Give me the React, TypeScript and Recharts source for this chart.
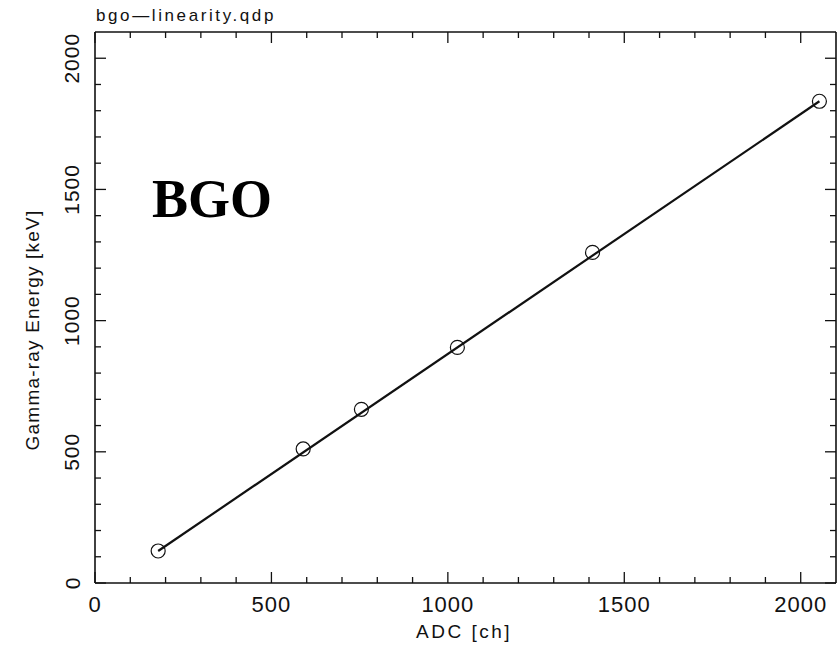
import React from "react";
import { ComposedChart, XAxis, YAxis, Scatter, Line } from "recharts";

// Measured calibration points (ADC channel vs gamma-ray energy)
const adcChannels = [179, 590, 755, 1027, 1410, 2053];
const gammaEnergies = [122, 511, 662, 898, 1260, 1836];

// Linear fit line endpoints
const fitAdc = [179, 2053];
const fitEnergy = [122, 1836];

// Tick values (every 100, labelled every 500)
const tickValues = [0, 100, 200, 300, 400, 500, 600, 700, 800, 900, 1000, 1100, 1200, 1300, 1400, 1500, 1600, 1700, 1800, 1900, 2000];
const labelledTicks = [0, 500, 1000, 1500, 2000];

const titleText = "bgo—linearity.qdp";
const xTitle = "ADC [ch]";
const yTitle = "Gamma-ray Energy [keV]";
const panelLabel = "BGO";

const points = adcChannels.map((a, i) => ({ x: a, y: gammaEnergies[i] }));
const fitData = fitAdc.map((a, i) => ({ x: a, y: fitEnergy[i] }));

const INK = "#111";
const FONT = "'Liberation Sans', Arial, sans-serif";
const MAJ = 11;
const MIN = 6;

const isMajor = (v: number) => labelledTicks.includes(v);

const BottomTick = (props: any) => {
  const { x, y, payload } = props;
  const major = isMajor(payload.value);
  return (
    <g>
      <line x1={x} x2={x} y1={y} y2={y - (major ? MAJ : MIN)} stroke={INK} strokeWidth={1.3} />
      {major && (
        <text x={x} y={y + 29} textAnchor="middle" fontFamily={FONT} fontSize={22} letterSpacing={1} fill={INK}>
          {payload.value}
        </text>
      )}
    </g>
  );
};

const TopTick = (props: any) => {
  const { x, y, payload } = props;
  const major = isMajor(payload.value);
  return <line x1={x} x2={x} y1={y} y2={y + (major ? MAJ : MIN)} stroke={INK} strokeWidth={1.3} />;
};

const LeftTick = (props: any) => {
  const { x, y, payload } = props;
  const major = isMajor(payload.value);
  return (
    <g>
      <line x1={x} x2={x + (major ? MAJ : MIN)} y1={y} y2={y} stroke={INK} strokeWidth={1.3} />
      {major && (
        <text
          x={x - 23}
          y={y}
          transform={`rotate(-90 ${x - 23} ${y})`}
          textAnchor="middle"
          dominantBaseline="central"
          fontFamily={FONT}
          fontSize={21}
          letterSpacing={1}
          fill={INK}
        >
          {payload.value}
        </text>
      )}
    </g>
  );
};

const RightTick = (props: any) => {
  const { x, y, payload } = props;
  const major = isMajor(payload.value);
  return <line x1={x} x2={x - (major ? MAJ : MIN)} y1={y} y2={y} stroke={INK} strokeWidth={1.3} />;
};

const OpenCircle = (props: any) => {
  const { cx, cy } = props;
  return <circle cx={cx} cy={cy} r={7} fill="none" stroke={INK} strokeWidth={1.2} />;
};

const axisLine = { stroke: INK, strokeWidth: 1.6 };

export default function App() {
  return (
    <div style={{ position: "absolute", left: 0, top: 0, width: 839, height: 650, background: "#fff" }}>
      <ComposedChart width={839} height={650} margin={{ top: 31, right: 2, bottom: 0, left: 0 }}>
        <XAxis
          xAxisId="b"
          dataKey="x"
          type="number"
          orientation="bottom"
          domain={[0, 2100]}
          ticks={tickValues}
          interval={0}
          height={67}
          tickSize={0}
          tickMargin={0}
          tickLine={false}
          axisLine={axisLine}
          tick={<BottomTick />}
          allowDataOverflow
        />
        <XAxis
          xAxisId="t"
          dataKey="x"
          type="number"
          orientation="top"
          domain={[0, 2100]}
          ticks={tickValues}
          interval={0}
          height={1}
          tickSize={0}
          tickMargin={0}
          tickLine={false}
          axisLine={axisLine}
          tick={<TopTick />}
          allowDataOverflow
        />
        <YAxis
          yAxisId="l"
          type="number"
          orientation="left"
          domain={[0, 2100]}
          ticks={tickValues}
          interval={0}
          width={95}
          tickSize={0}
          tickMargin={0}
          tickLine={false}
          axisLine={axisLine}
          tick={<LeftTick />}
          allowDataOverflow
        />
        <YAxis
          yAxisId="r"
          type="number"
          orientation="right"
          domain={[0, 2100]}
          ticks={tickValues}
          interval={0}
          width={1}
          tickSize={0}
          tickMargin={0}
          tickLine={false}
          axisLine={axisLine}
          tick={<RightTick />}
          allowDataOverflow
        />
        <Line
          xAxisId="b"
          yAxisId="l"
          data={fitData}
          dataKey="y"
          type="linear"
          stroke={INK}
          strokeWidth={2.2}
          dot={false}
          activeDot={false}
          isAnimationActive={false}
        />
        <Scatter
          xAxisId="b"
          yAxisId="l"
          data={points}
          dataKey="y"
          shape={<OpenCircle />}
          isAnimationActive={false}
        />
        <Scatter xAxisId="t" yAxisId="r" data={[]} dataKey="y" isAnimationActive={false} />
      </ComposedChart>
      <svg width={839} height={650} style={{ position: "absolute", left: 0, top: 0, pointerEvents: "none" }}>
        <text x={96} y={20.5} fontFamily={FONT} fontSize={17} letterSpacing={2.6} fill={INK}>
          {titleText}
        </text>
        <text x={152} y={217} fontFamily="'Liberation Serif', 'Times New Roman', serif" fontWeight="bold" fontSize={54} fill="#000">
          {panelLabel}
        </text>
        <text x={464} y={638} textAnchor="middle" fontFamily={FONT} fontSize={19} letterSpacing={2.5} fill={INK}>
          {xTitle}
        </text>
        <text
          x={39}
          y={330}
          transform="rotate(-90 39 330)"
          textAnchor="middle"
          fontFamily={FONT}
          fontSize={19}
          letterSpacing={1.2}
          fill={INK}
        >
          {yTitle}
        </text>
      </svg>
    </div>
  );
}
